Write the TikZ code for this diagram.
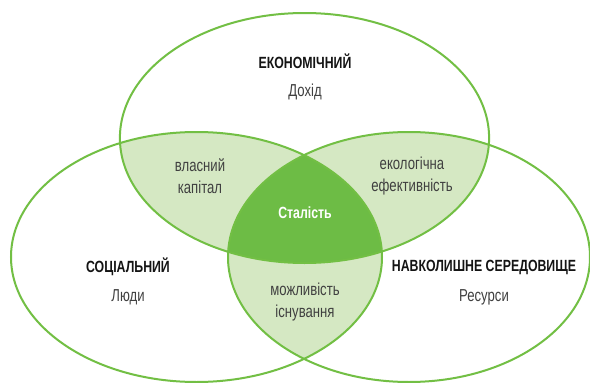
\documentclass[tikz,border=0pt]{standalone}
\usepackage{fontspec}
\setmainfont{Liberation Sans}[FakeStretch=0.76]
\definecolor{vline}{HTML}{72BF44}
\definecolor{vlight}{HTML}{D5E8C3}
\definecolor{vdark}{HTML}{6DBC45}
\definecolor{headc}{HTML}{141414}
\definecolor{subc}{HTML}{404040}
\tikzset{
  head/.style={font=\fontsize{16.2}{19}\selectfont\bfseries, text=headc, inner sep=0pt},
  subtext/.style={font=\fontsize{17.3}{21.5}\selectfont, text=subc, inner sep=0pt, align=center},
  coretext/.style={font=\fontsize{16.2}{19}\selectfont\bfseries, text=white, inner sep=0pt},
  ring/.style={draw=vline, line width=2pt}
}
\begin{document}
\begin{tikzpicture}[x=1pt,y=-1pt]
\useasboundingbox[fill=white] (0,0) rectangle (590,383);
\coordinate (E) at (304.5,138);
\coordinate (S) at (196.5,257);
\coordinate (N) at (409,257);
\def\econ{(E) ellipse [x radius=184.6pt, y radius=125pt]}
\def\soc{(S) ellipse [x radius=185.5pt, y radius=125pt]}
\def\env{(N) ellipse [x radius=181pt, y radius=125pt]}
% pairwise intersections
\begin{scope}\clip \econ; \fill[vlight] \soc; \end{scope}
\begin{scope}\clip \econ; \fill[vlight] \env; \end{scope}
\begin{scope}\clip \soc; \fill[vlight] \env; \end{scope}
% triple intersection
\begin{scope}\clip \econ; \clip \soc; \fill[vdark] \env; \end{scope}
% outlines
\draw[ring] \econ;
\draw[ring] \soc;
\draw[ring] \env;
% labels
\node[head] (eh) at (305,61) {ЕКОНОМІЧНИЙ};
\node[subtext] (es) at (305,92) {Дохід};
\node[head] (sh) at (128,267) {СОЦІАЛЬНИЙ};
\node[subtext] (ss) at (128,297) {Люди};
\node[head] (nh) at (484,267) {НАВКОЛИШНЕ СЕРЕДОВИЩЕ};
\node[subtext] (ns) at (484,297) {Ресурси};
\node[subtext] (es2) at (200,176) {власний\\капітал};
\node[subtext] (en2) at (412,176) {екологічна\\ефективність};
\node[subtext] (sn2) at (305,302) {можливість\\існування};
\node[coretext] (core) at (305,213) {Сталість};
\end{tikzpicture}
\end{document}
